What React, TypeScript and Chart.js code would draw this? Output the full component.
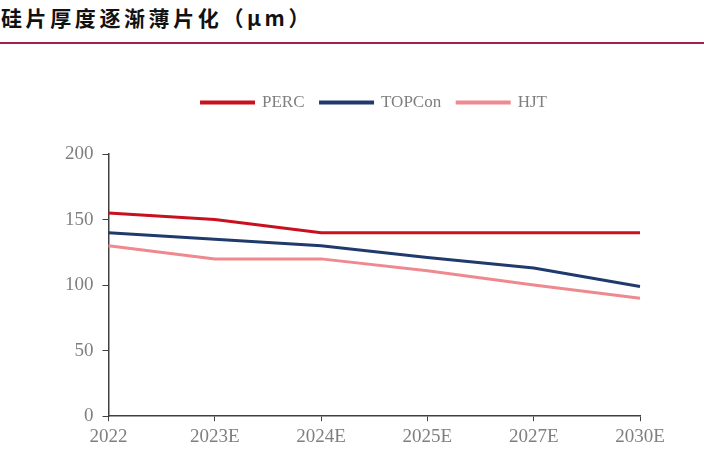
import React, { useEffect, useRef } from "react";
import { Chart, registerables } from "chart.js";

Chart.register(...registerables);

const categories = ["2022", "2023E", "2024E", "2025E", "2027E", "2030E"];
const percValues = [155, 150, 140, 140, 140, 140];
const topconValues = [140, 135, 130, 121, 113, 99];
const hjtValues = [130, 120, 120, 111, 100, 90];
const seriesNames = ["PERC", "TOPCon", "HJT"];
const yTicks = [0, 50, 100, 150, 200];

const colors = ["#c8101e", "#1f3a6b", "#ee8a8f"];
const tickFont = { family: "'Liberation Serif', 'DejaVu Serif', serif", size: 19 };

const legendGap = {
  id: "legendGap",
  beforeInit(chart: any) {
    const legend = chart.legend;
    if (!legend) return;
    const orig = legend.fit;
    legend.fit = function () {
      orig.call(this);
      this.height += 33;
    };
  },
};

export default function App() {
  const canvasRef = useRef<HTMLCanvasElement | null>(null);

  useEffect(() => {
    const canvas = canvasRef.current;
    if (!canvas) return;
    const series = [percValues, topconValues, hjtValues];
    const chart = new Chart(canvas, {
      type: "line",
      data: {
        labels: categories,
        datasets: series.map((vals, i) => ({
          label: seriesNames[i],
          data: vals,
          borderColor: colors[i],
          backgroundColor: colors[i],
          borderWidth: 3,
          pointRadius: 0,
          tension: 0,
          fill: false,
        })),
      },
      plugins: [legendGap],
      options: {
        responsive: false,
        animation: false,
        layout: { padding: { top: 78, left: 56, right: 64, bottom: 3 } },
        plugins: {
          title: { display: false },
          tooltip: { enabled: false },
          legend: {
            position: "top",
            fullSize: false,
            labels: {
              boxWidth: 52,
              boxHeight: 1,
              padding: 16,
              color: "#7f7f7f",
              font: { family: "'Liberation Serif', 'DejaVu Serif', serif", size: 17 },
            },
          },
        },
        scales: {
          x: {
            type: "category",
            offset: false,
            grid: {
              drawOnChartArea: false,
              drawTicks: true,
              tickLength: 5,
              color: "#404040",
              offset: false,
            },
            border: { display: true, color: "#404040", width: 1.5 },
            ticks: {
              color: "#7f7f7f",
              font: tickFont,
              padding: 4,
              maxRotation: 0,
              autoSkip: false,
            },
          },
          y: {
            min: 0,
            max: 200,
            afterBuildTicks: (axis: any) => {
              axis.ticks = yTicks.map((v) => ({ value: v }));
            },
            grid: {
              drawOnChartArea: false,
              drawTicks: true,
              tickLength: 6,
              color: "#404040",
            },
            border: { display: true, color: "#404040", width: 1.5 },
            ticks: {
              color: "#7f7f7f",
              font: tickFont,
              padding: 9,
            },
          },
        },
      },
    });
    return () => chart.destroy();
  }, []);

  return (
    <div style={{ position: "fixed", left: 0, top: 0, width: 704, height: 455, background: "#fff", overflow: "hidden" }}>
      <div
        style={{
          position: "absolute",
          left: 1,
          top: 3,
          fontFamily: "'Noto Sans CJK SC', sans-serif",
          fontWeight: 700,
          fontSize: 21,
          letterSpacing: 3.6,
          lineHeight: "28px",
          color: "#111",
          whiteSpace: "nowrap",
        }}
      >
        硅片厚度逐渐薄片化（μm）
      </div>
      <div style={{ position: "absolute", left: 0, top: 42, width: 704, height: 2, background: "#a0234f" }} />
      <canvas ref={canvasRef} width={704} height={455} style={{ position: "absolute", left: 0, top: 0, display: "block" }} />
    </div>
  );
}
